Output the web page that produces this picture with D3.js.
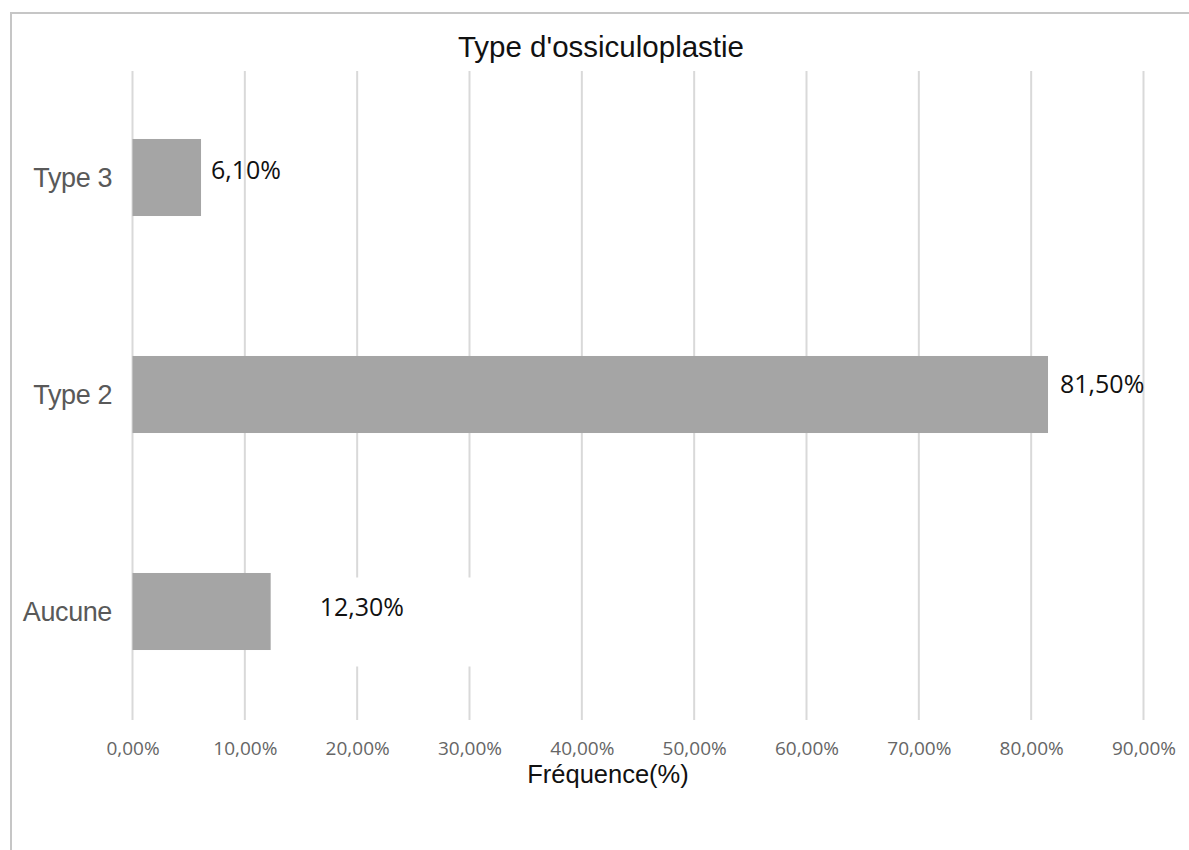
<!DOCTYPE html>
<html>
<head>
<meta charset="utf-8">
<script src="https://cdn.jsdelivr.net/npm/d3@7"></script>
<style>
  html, body { margin: 0; padding: 0; background: #fff; }
  svg { display: block; }
</style>
</head>
<body>
<svg id="chart" width="1189" height="850"></svg>
<script>
// ---- data ----
const categories = ["Type 3", "Type 2", "Aucune"];
const values = [6.1, 81.5, 12.3];
const valueLabels = ["6,10%", "81,50%", "12,30%"];
const tickValues = [0, 10, 20, 30, 40, 50, 60, 70, 80, 90];
const tickLabels = ["0,00%", "10,00%", "20,00%", "30,00%", "40,00%", "50,00%", "60,00%", "70,00%", "80,00%", "90,00%"];
const titleText = "Type d'ossiculoplastie";
const axisTitleText = "Fréquence(%)";
// manual label nudges (as in the original, labels were moved by hand)
const labelDx = [10, 12, 49];
const labelDy = [-7, -10, -4];
const labelBg = [false, false, true];

const svg = d3.select("#chart");

// outer border (only top & left visible)
svg.append("path")
  .attr("d", "M11,850 L11,13 L1189,13")
  .attr("fill", "none")
  .attr("stroke", "#c6c6c6")
  .attr("stroke-width", 2);

const x = d3.scaleLinear().domain([0, 90]).range([132.5, 1143.5]);
const y = d3.scaleBand().domain(categories).range([69, 720]).paddingInner(0.645).paddingOuter(0.3225);

// gridlines
svg.append("g").selectAll("line")
  .data(tickValues).join("line")
  .attr("x1", d => x(d)).attr("x2", d => x(d))
  .attr("y1", 71).attr("y2", 720)
  .attr("stroke", "#d9d9d9").attr("stroke-width", 2);

// tick labels via axis
const xAxis = d3.axisBottom(x).tickValues(tickValues)
  .tickFormat((d, i) => tickLabels[i]).tickSize(0).tickPadding(0);
const gx = svg.append("g").attr("transform", "translate(0,741)").call(xAxis);
gx.select(".domain").remove();
gx.selectAll("text")
  .attr("font-family", "'Open Sans', sans-serif")
  .attr("font-size", 19)
  .attr("fill", "#666666");

// category labels via axis
const yAxis = d3.axisLeft(y).tickSize(0).tickPadding(0);
const gy = svg.append("g").attr("transform", "translate(112,0)").call(yAxis);
gy.select(".domain").remove();
gy.selectAll("text")
  .attr("font-family", "'Liberation Sans', Arial, sans-serif")
  .attr("font-size", 27)
  .attr("letter-spacing", -0.4)
  .attr("fill", "#595959")
  .attr("dy", "0.34em");

// bars
svg.append("g").selectAll("rect")
  .data(values).join("rect")
  .attr("x", x(0))
  .attr("y", (d, i) => y(categories[i]))
  .attr("width", d => x(d) - x(0))
  .attr("height", y.bandwidth())
  .attr("fill", "#a5a5a5");

// data labels
const lg = svg.append("g");
values.forEach((v, i) => {
  const lx = x(v) + labelDx[i];
  const ly = y(categories[i]) + y.bandwidth() / 2 + labelDy[i];
  if (labelBg[i]) {
    lg.append("rect")
      .attr("x", lx - 30).attr("y", ly - 30)
      .attr("width", 220).attr("height", 89)
      .attr("fill", "#ffffff");
  }
  lg.append("text")
    .attr("x", lx).attr("y", ly)
    .attr("dy", "0.35em")
    .attr("font-family", "'Open Sans', sans-serif")
    .attr("font-size", 25)
    .attr("fill", "#111111")
    .text(valueLabels[i]);
});

// title
svg.append("text")
  .attr("x", 601).attr("y", 57)
  .attr("text-anchor", "middle")
  .attr("font-family", "'Liberation Sans', Arial, sans-serif")
  .attr("font-size", 29.5)
  .attr("fill", "#111111")
  .text(titleText);

// axis title
svg.append("text")
  .attr("x", 608).attr("y", 783)
  .attr("text-anchor", "middle")
  .attr("font-family", "'Liberation Sans', Arial, sans-serif")
  .attr("font-size", 25.5)
  .attr("fill", "#111111")
  .text(axisTitleText);
</script>
</body>
</html>
